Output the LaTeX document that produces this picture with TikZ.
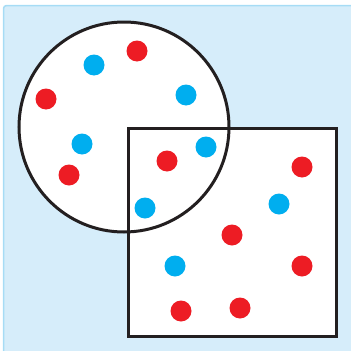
\documentclass[tikz,border=0pt]{standalone}
\usepackage{tikz}
\definecolor{panelblue}{RGB}{214,237,250}
\definecolor{paneledge}{RGB}{166,220,245}
\definecolor{dotred}{RGB}{237,28,36}
\definecolor{dotblue}{RGB}{0,174,239}
\definecolor{outline}{RGB}{35,31,32}

\begin{document}
\begin{tikzpicture}[
    x=1pt, y=-1pt,
    reddot/.style={circle, fill=dotred, inner sep=0pt, minimum size=21pt},
    bluedot/.style={circle, fill=dotblue, inner sep=0pt, minimum size=21pt},
    setline/.style={draw=outline, line width=3pt, fill=white}
]
\useasboundingbox (0,0) rectangle (351,351);
% background panel
\draw[fill=panelblue, draw=paneledge, line width=1.5pt, rounded corners=3pt] (3.5,5.5) rectangle (360,360);

% the two sets
\fill[white] (124,127) circle[radius=105];
\fill[white] (128,128) rectangle (336,336);
\draw[setline, fill=none] (124,127) circle[radius=105];
\draw[setline, fill=none] (128,128) rectangle (336,336);

% red points
\node[reddot] (r1) at (137,51) {};
\node[reddot] (r2) at (46,99) {};
\node[reddot] (r3) at (69,175) {};
\node[reddot] (r4) at (167,161) {};
\node[reddot] (r5) at (302,167) {};
\node[reddot] (r6) at (232,235) {};
\node[reddot] (r7) at (302,266) {};
\node[reddot] (r8) at (181,311) {};
\node[reddot] (r9) at (240,308) {};

% blue points
\node[bluedot] (b1) at (94,65) {};
\node[bluedot] (b2) at (186,95) {};
\node[bluedot] (b3) at (82,144) {};
\node[bluedot] (b4) at (206,147) {};
\node[bluedot] (b5) at (145,208) {};
\node[bluedot] (b6) at (279,204) {};
\node[bluedot] (b7) at (175,266) {};
\end{tikzpicture}
\end{document}
